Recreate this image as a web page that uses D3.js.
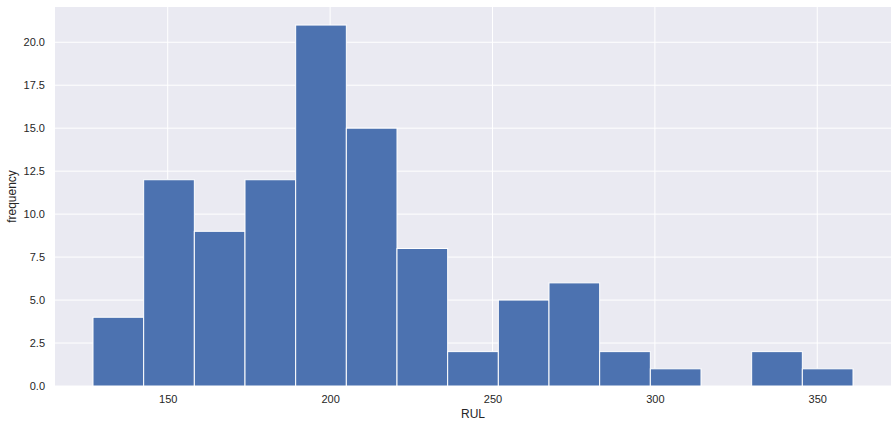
<!DOCTYPE html>
<html><head><meta charset="utf-8">
<script src="https://cdn.jsdelivr.net/npm/d3@7"></script>
<style>body{margin:0;background:#fff}text{font-family:"Liberation Sans",Arial,sans-serif;fill:#262626}</style>
</head><body><svg id="c" width="896" height="428"></svg>
<script>
const binEdges = [127, 142.6, 158.2, 173.8, 189.4, 205, 220.6, 236.2, 251.8, 267.4, 283, 298.6, 314.2, 329.8, 345.4, 361];
const counts = [4, 12, 9, 12, 21, 15, 8, 2, 5, 6, 2, 1, 0, 2, 1];
const xTicks = [150, 200, 250, 300, 350];
const yTicks = [0, 2.5, 5, 7.5, 10, 12.5, 15, 17.5, 20];
const xLabel = "RUL", yLabel = "frequency";

const svg = d3.select("#c");
const L = 55, R = 891, T = 7, B = 386;
const lo = binEdges[0], hi = binEdges[binEdges.length-1], pad = (hi-lo)*0.05;
const x = d3.scaleLinear().domain([lo-pad, hi+pad]).range([L, R]);
const yMax = d3.max(counts)*1.05;
const y = d3.scaleLinear().domain([0, yMax]).range([B, T]);

svg.append("rect").attr("x", L).attr("y", T).attr("width", R-L).attr("height", B-T).attr("fill", "#EAEAF2");
const g = svg.append("g");
g.selectAll(".gx").data(xTicks).join("line").attr("x1", d=>x(d)).attr("x2", d=>x(d)).attr("y1", T).attr("y2", B).attr("stroke", "#fff").attr("stroke-width", 1);
g.selectAll(".gy").data(yTicks).join("line").attr("y1", d=>y(d)).attr("y2", d=>y(d)).attr("x1", L).attr("x2", R).attr("stroke", "#fff").attr("stroke-width", 1);

const bins = counts.map((c,i)=>({x0: binEdges[i], x1: binEdges[i+1], c}));
svg.selectAll(".bar").data(bins.filter(b=>b.c>0)).join("rect")
  .attr("x", d=>x(d.x0)).attr("width", d=>x(d.x1)-x(d.x0))
  .attr("y", d=>y(d.c)).attr("height", d=>y(0)-y(d.c))
  .attr("fill", "#4C72B0").attr("stroke", "#fff").attr("stroke-width", 1);

const xa = svg.append("g").attr("transform", `translate(0,${B})`)
  .call(d3.axisBottom(x).tickValues(xTicks).tickSize(0).tickPadding(9).tickFormat(d3.format("d")));
xa.select(".domain").remove();
xa.selectAll("text").attr("font-size", 11).style("font-family", '"Liberation Sans",Arial,sans-serif').attr("fill", "#262626");
const ya = svg.append("g").attr("transform", `translate(${L},0)`)
  .call(d3.axisLeft(y).tickValues(yTicks).tickSize(0).tickPadding(10).tickFormat(d3.format(".1f")));
ya.select(".domain").remove();
ya.selectAll("text").attr("font-size", 11).style("font-family", '"Liberation Sans",Arial,sans-serif').attr("fill", "#262626");

svg.append("text").attr("x", (L+R)/2).attr("y", 418).attr("text-anchor", "middle").attr("font-size", 12).text(xLabel);
svg.append("text").attr("transform", `translate(16,${(T+B)/2}) rotate(-90)`).attr("text-anchor", "middle").attr("font-size", 12).text(yLabel);
</script></body></html>
